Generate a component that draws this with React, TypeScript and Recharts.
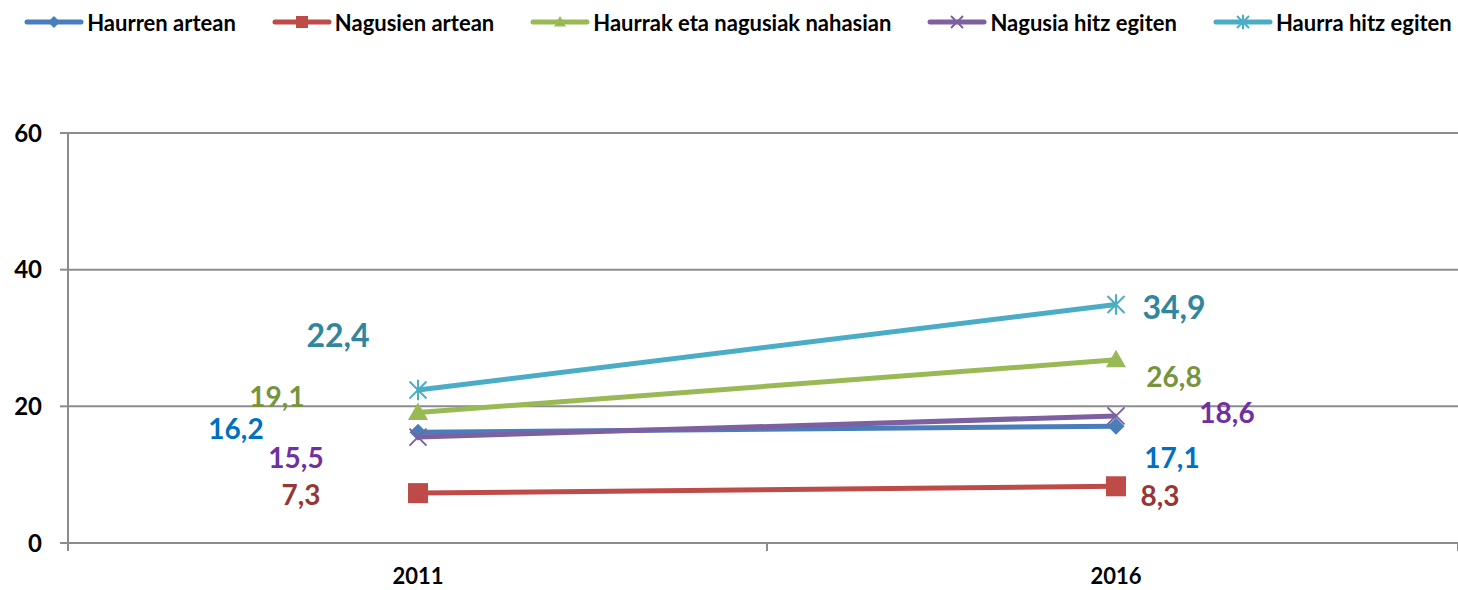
import { LineChart, Line, XAxis, YAxis, CartesianGrid, Legend, LabelList } from "recharts"

const years = ["2011", "2016"]
const haurrenArtean = [16.2, 17.1]
const nagusienArtean = [7.3, 8.3]
const nahasian = [19.1, 26.8]
const nagusiaHitz = [15.5, 18.6]
const haurraHitz = [22.4, 34.9]
const yTicks = [0, 20, 40, 60]

const FONT = "Lato, 'Open Sans', sans-serif"

const data = years.map((year, i) => ({
  year,
  haurren: haurrenArtean[i],
  nagusien: nagusienArtean[i],
  nahasian: nahasian[i],
  nagusia: nagusiaHitz[i],
  haurra: haurraHitz[i],
}))

type Shape = "diamond" | "square" | "triangle" | "x" | "star"

// series styles: label offsets are [2011, 2016] as [dx, dy] from the point
const SERIES: {
  key: string
  name: string
  color: string
  labelColor: string
  shape: Shape
  fontSize: number
  offsets: [number, number][]
}[] = [
  { key: "haurren", name: "Haurren artean", color: "#4A7EBB", labelColor: "#0070C0", shape: "diamond", fontSize: 28, offsets: [[-182, -4], [56, 31]] },
  { key: "nagusien", name: "Nagusien artean", color: "#BE4B48", labelColor: "#953735", shape: "square", fontSize: 28, offsets: [[-117, 1], [44, 9]] },
  { key: "nahasian", name: "Haurrak eta nagusiak nahasian", color: "#98B954", labelColor: "#77933C", shape: "triangle", fontSize: 28, offsets: [[-141, -16], [58, 16]] },
  { key: "nagusia", name: "Nagusia hitz egiten", color: "#7D60A0", labelColor: "#7030A0", shape: "x", fontSize: 28, offsets: [[-122, 20], [111, -4]] },
  { key: "haurra", name: "Haurra hitz egiten", color: "#4BACC6", labelColor: "#31859C", shape: "star", fontSize: 32, offsets: [[-80, -55], [58, 2]] },
]

function Marker({ cx, cy, shape, color, size }: { cx: number; cy: number; shape: Shape; color: string; size: number }) {
  const s = size / 2
  if (shape === "diamond")
    return <polygon points={`${cx},${cy - s} ${cx + s},${cy} ${cx},${cy + s} ${cx - s},${cy}`} fill={color} />
  if (shape === "square")
    return <rect x={cx - s} y={cy - s} width={size} height={size} fill={color} />
  if (shape === "triangle")
    return <polygon points={`${cx},${cy - s} ${cx + s},${cy + s * 0.75} ${cx - s},${cy + s * 0.75}`} fill={color} />
  if (shape === "x")
    return (
      <g stroke={color} strokeWidth={2}>
        <line x1={cx - s} y1={cy - s} x2={cx + s} y2={cy + s} />
        <line x1={cx - s} y1={cy + s} x2={cx + s} y2={cy - s} />
      </g>
    )
  return (
    <g stroke={color} strokeWidth={2}>
      <line x1={cx - s} y1={cy - s} x2={cx + s} y2={cy + s} />
      <line x1={cx - s} y1={cy + s} x2={cx + s} y2={cy - s} />
      <line x1={cx} y1={cy - s * 1.2} x2={cx} y2={cy + s * 1.2} />
    </g>
  )
}

function fmt(v: number) {
  return v.toFixed(1).replace(".", ",")
}

function makeLabel(sr: (typeof SERIES)[number]) {
  return (props: any) => {
    const { x, y, value, index } = props
    const [dx, dy] = sr.offsets[index] ?? [0, 0]
    return (
      <text
        x={x + dx}
        y={y + dy}
        textAnchor="middle"
        dominantBaseline="central"
        fill={sr.labelColor}
        fontFamily={FONT}
        fontWeight={700}
        fontSize={sr.fontSize}
      >
        {fmt(value)}
      </text>
    )
  }
}

function XTick(props: any) {
  const { x, y, payload, index } = props
  return (
    <g>
      {index === 0 && <line x1={x - 350} y1={y - 8} x2={x - 350} y2={y} stroke="#8c8c8c" strokeWidth={2} />}
      <line x1={x + (index === 0 ? 349 : 342)} y1={y - 8} x2={x + (index === 0 ? 349 : 342)} y2={y} stroke="#8c8c8c" strokeWidth={2} />
      <text x={x} y={y + 33} textAnchor="middle" fill="#000" fontFamily={FONT} fontWeight={700} fontSize={22}>
        {payload.value}
      </text>
    </g>
  )
}

function LegendContent() {
  return (
    <div style={{ display: "flex", justifyContent: "center", alignItems: "center", height: 40, gap: 36, paddingLeft: 18, boxSizing: "border-box" }}>
      {SERIES.map((s) => (
        <div key={s.key} style={{ display: "flex", alignItems: "center" }}>
          <svg width={60} height={20} style={{ marginRight: 3 }}>
            <line x1={3} y1={10} x2={57} y2={10} stroke={s.color} strokeWidth={5} strokeLinecap="round" />
            <Marker cx={30} cy={10} shape={s.shape} color={s.color} size={12} />
          </svg>
          <span style={{ fontFamily: FONT, fontWeight: 700, fontSize: 22, color: "#000" }}>{s.name}</span>
        </div>
      ))}
    </div>
  )
}

export default function App() {
  return (
    <div style={{ position: "absolute", left: 0, top: 0, background: "#fff" }}>
      <LineChart width={1458} height={590} data={data} margin={{ top: 93, right: 0, bottom: 0, left: 0 }}>
        <CartesianGrid vertical={false} stroke="#8c8c8c" strokeWidth={2} />
        <XAxis
          dataKey="year"
          padding={{ left: 350, right: 342 }}
          height={47}
          tickLine={false}
          axisLine={{ stroke: "#8c8c8c", strokeWidth: 2 }}
          tick={<XTick />}
        />
        <YAxis
          domain={[0, 60]}
          ticks={yTicks}
          width={68}
          tickSize={8}
          tickMargin={18}
          axisLine={{ stroke: "#8c8c8c", strokeWidth: 2 }}
          tickLine={{ stroke: "#8c8c8c", strokeWidth: 2 }}
          tick={{ fill: "#000", fontFamily: FONT, fontWeight: 700, fontSize: 24 }}
        />
        <Legend verticalAlign="top" height={40} wrapperStyle={{ top: 2, left: 0, width: 1458 }} content={<LegendContent />} />
        {SERIES.map((s) => (
          <Line
            key={s.key}
            dataKey={s.key}
            name={s.name}
            stroke={s.color}
            strokeWidth={5}
            isAnimationActive={false}
            dot={(p: any) => (
              <Marker key={`${s.key}-${p.index}`} cx={p.cx} cy={p.cy} shape={s.shape} color={s.color} size={s.shape === "square" ? 20 : s.shape === "triangle" ? 20 : 17} />
            )}
            activeDot={false}
          >
            <LabelList dataKey={s.key} content={makeLabel(s)} />
          </Line>
        ))}
      </LineChart>
    </div>
  )
}
